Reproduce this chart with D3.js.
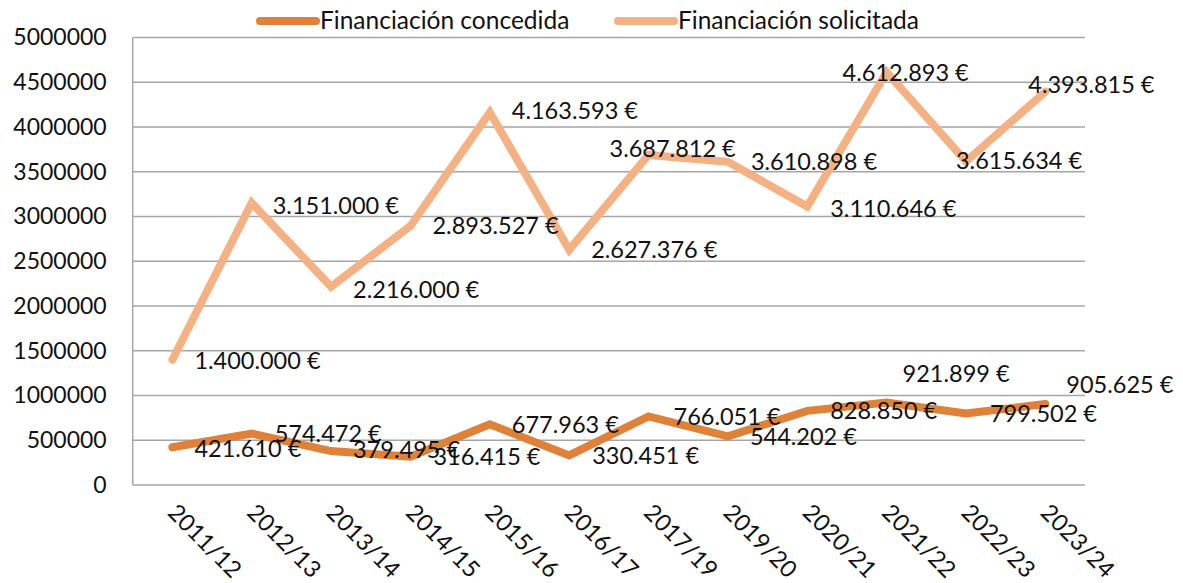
<!DOCTYPE html>
<html><head><meta charset="utf-8">
<script src="https://cdn.jsdelivr.net/npm/d3@7"></script>
<style>body{margin:0;background:#fff}svg{display:block}text{font-family:Lato,"Open Sans",sans-serif;fill:#111}</style>
</head><body><svg id="c" width="1183" height="583"></svg>
<script>
const categories = ["2011/12","2012/13","2013/14","2014/15","2015/16","2016/17","2017/19","2019/20","2020/21","2021/22","2022/23","2023/24"];
const concedida = [421610,574472,379495,316415,677963,330451,766051,544202,828850,921899,799502,905625];
const solicitada = [1400000,3151000,2216000,2893527,4163593,2627376,3687812,3610898,3110646,4612893,3615634,4393815];
const yTicks = [0,500000,1000000,1500000,2000000,2500000,3000000,3500000,4000000,4500000,5000000];
const seriesNames = ["Financiación concedida","Financiación solicitada"];
// label offsets relative to the point [dx, dy] (layout only)
const offConcedida = [[22,10],[23,8],[22,7],[23,8],[22,9],[23,9],[25,9],[22,9],[23,8],[16,-20],[24,9],[21,-11]];
const offSolicitada = [[22,9],[21,11],[22,11],[22,8],[22,7],[22,8],[-39,2],[23,8],[23,10],[-44,9],[-10,8],[-17,1]];

const svg = d3.select("#c");
const m = {l:132.7, r:1085, t:37.5, b:485};
const x = d3.scaleBand().domain(categories).range([m.l, m.r]);
const y = d3.scaleLinear().domain([0,5000000]).range([m.b, m.t]);
const cx = d => x(d) + x.bandwidth()/2;
const fmt = v => d3.format(",")(v).replace(/,/g,".") + " €";
const colors = ["#DF8139","#F4B183"];

// gridlines
svg.append("g").selectAll("line").data(yTicks).join("line")
  .attr("x1", m.l).attr("x2", m.r).attr("y1", d=>y(d)).attr("y2", d=>y(d))
  .attr("stroke", "#a6a6a6").attr("stroke-width", 1.5);
svg.append("line").attr("x1", m.l).attr("x2", m.l).attr("y1", m.t).attr("y2", m.b)
  .attr("stroke", "#a6a6a6").attr("stroke-width", 1.5);

// y axis labels
const yAxis = d3.axisLeft(y).tickValues(yTicks).tickFormat(d3.format("d")).tickSize(0).tickPadding(26);
const ya = svg.append("g").attr("transform", `translate(${m.l},0)`).call(yAxis);
ya.select(".domain").remove();
ya.selectAll("text").attr("font-size", 23).attr("font-family", "Lato").attr("fill", "#111");

// x labels
svg.append("g").selectAll("text").data(categories).join("text")
  .attr("transform", d => `translate(${cx(d)-6},${514}) rotate(45)`)
  .attr("font-size", 23.5).text(d => d);

const line = d3.line().x((d,i)=>cx(categories[i])).y(d=>y(d));
[[concedida, colors[0]], [solicitada, colors[1]]].forEach(([data, col]) => {
  svg.append("path").datum(data).attr("d", line).attr("fill","none")
    .attr("stroke", col).attr("stroke-width", 8).attr("stroke-linecap","round").attr("stroke-linejoin","miter");
});

// data labels
[[concedida, offConcedida], [solicitada, offSolicitada]].forEach(([data, off]) => {
  svg.append("g").selectAll("text").data(data).join("text")
    .attr("x", (d,i)=>cx(categories[i]) + off[i][0])
    .attr("y", (d,i)=>y(d) + off[i][1])
    .attr("font-size", 23.5).text(d => fmt(d));
});

// legend
const legendX = [260, 618];
seriesNames.forEach((n, i) => {
  svg.append("line").attr("x1", legendX[i]).attr("x2", legendX[i]+56).attr("y1", 21).attr("y2", 21)
    .attr("stroke", colors[i]).attr("stroke-width", 8).attr("stroke-linecap","round");
  svg.append("text").attr("x", legendX[i]+60).attr("y", 29).attr("font-size", 24.5).text(n);
});
</script></body></html>
